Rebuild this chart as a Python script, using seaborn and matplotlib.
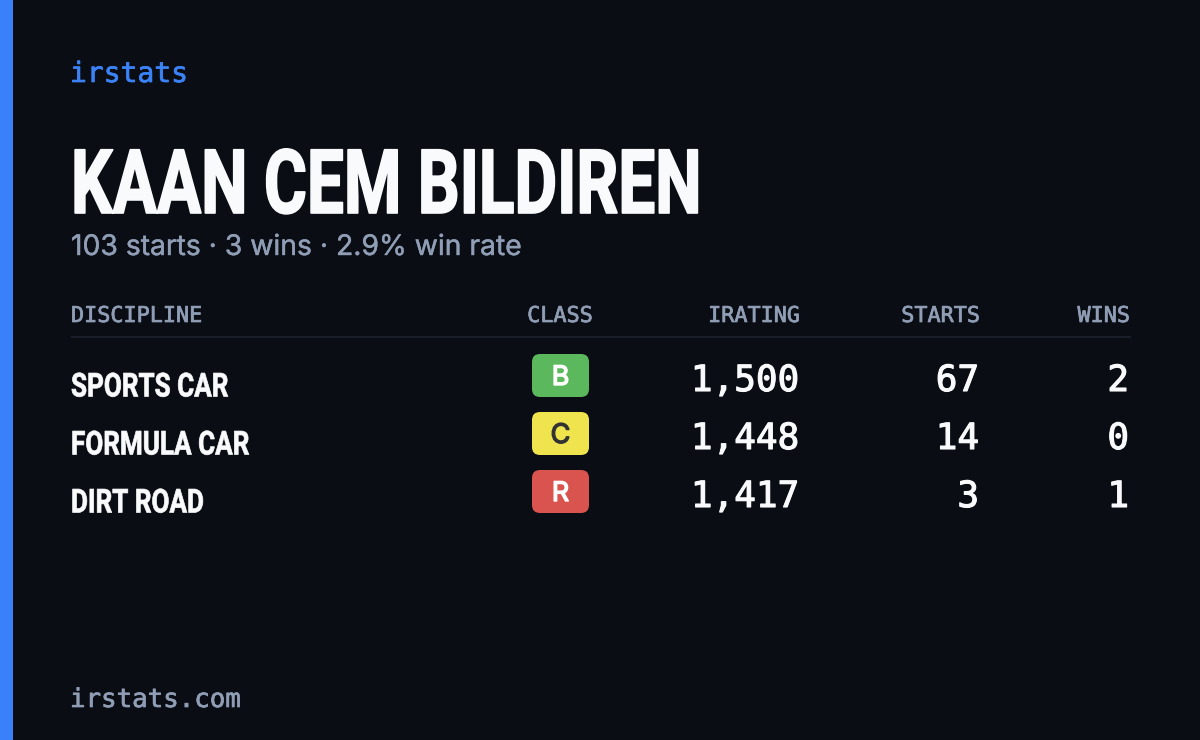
import matplotlib
matplotlib.use("Agg")
import matplotlib.pyplot as plt
import matplotlib.patheffects as pe
import seaborn as sns
from matplotlib.patches import FancyBboxPatch, Rectangle
from matplotlib.transforms import Affine2D

brand = "irstats"
site = "irstats.com"
driver = "KAAN CEM BILDIREN"
summary = "103 starts · 3 wins · 2.9% win rate"
headers = ["DISCIPLINE", "CLASS", "IRATING", "STARTS", "WINS"]
disciplines = ["SPORTS CAR", "FORMULA CAR", "DIRT ROAD"]
classes = ["B", "C", "R"]
iratings = [1500, 1448, 1417]
starts = [67, 14, 3]
wins = [2, 0, 1]

BG = "#0a0d14"
ACCENT = "#3b82f6"
WHITE = "#f8fafc"
MUTED = "#8f9db5"
RULE = "#1a1e2a"
BADGE_FILL = {"B": "#5cb85c", "C": "#f0e44e", "R": "#d9534f"}
BADGE_TEXT = {"B": "#ffffff", "C": "#333333", "R": "#ffffff"}

CONDENSED = ["Roboto", "DejaVu Sans"]
MONO = ["DejaVu Sans Mono"]
SANS = ["Inter", "DejaVu Sans"]


def px(size):
    return size * 0.72


class Squeeze(pe.AbstractPathEffect):
    # no condensed font installed, so narrow the glyphs around a left edge and thicken them
    def __init__(self, scale, left, stroke):
        super().__init__()
        self.scale = scale
        self.left = left
        self.stroke = stroke

    def draw_path(self, renderer, gc, tpath, affine, rgbFace=None):
        narrow = affine + Affine2D().translate(-self.left, 0).scale(self.scale, 1).translate(self.left, 0)
        gc0 = renderer.new_gc()
        gc0.copy_properties(gc)
        gc0.set_foreground(rgbFace)
        gc0.set_linewidth(self.stroke)
        renderer.draw_path(gc0, tpath, narrow, rgbFace)
        gc0.restore()


def heavier(color, width):
    return [pe.withStroke(linewidth=width, foreground=color)]


sns.set_theme(style="dark", rc={"figure.facecolor": BG, "axes.facecolor": BG})

fig, ax = plt.subplots(figsize=(12, 7.4), dpi=100)
ax.set_position([0, 0, 1, 1])
ax.set_xlim(0, 1200)
ax.set_ylim(740, 0)
ax.axis("off")

ax.add_patch(Rectangle((0, 0), 13, 740, color="#3a80fb", lw=0))

ax.text(70, 82, brand, color=ACCENT, family=MONO, fontsize=px(28), va="baseline",
        path_effects=heavier(ACCENT, 0.5))
ax.text(71, 213, driver, color=WHITE, family=CONDENSED, weight="bold", fontsize=px(89), va="baseline",
        path_effects=[Squeeze(0.738, 71, 1.2)])
ax.text(71, 255, summary, color=MUTED, family=SANS, fontsize=px(28.3), va="baseline",
        path_effects=heavier(MUTED, 0.3))
ax.text(70, 707, site, color=MUTED, family=MONO, fontsize=px(25.8), va="baseline",
        path_effects=heavier(MUTED, 0.5))

# table header
col_x = [71, 560, 800, 980, 1130]
col_ha = ["left", "center", "right", "right", "right"]
for label, x, ha in zip(headers, col_x, col_ha):
    ax.text(x, 322, label, color=MUTED, family=MONO, fontsize=px(21.8), ha=ha, va="baseline",
            path_effects=heavier(MUTED, 0.5))
ax.plot([71, 1131], [337, 337], color=RULE, lw=1.5, solid_capstyle="butt")

# table rows
for i, name in enumerate(disciplines):
    row = 58 * i
    ax.text(71, 396.5 + row, name, color=WHITE, family=CONDENSED, weight="bold", fontsize=px(33), va="baseline",
            path_effects=[Squeeze(0.79, 71, 0.5)])

    cls = classes[i]
    ax.add_patch(FancyBboxPatch((540, 362 + row), 41, 27, boxstyle="round,pad=8,rounding_size=8",
                                facecolor=BADGE_FILL[cls], edgecolor="none"))
    ax.text(560.5, 385 + row, cls, color=BADGE_TEXT[cls], family=SANS,
            fontsize=px(27), ha="center", va="baseline", path_effects=heavier(BADGE_TEXT[cls], 1.0))

    for value, x in zip([f"{iratings[i]:,}", str(starts[i]), str(wins[i])], [799, 979, 1129]):
        ax.text(x, 391 + row, value, color=WHITE, family=MONO, fontsize=px(36), ha="right", va="baseline",
                path_effects=heavier(WHITE, 0.8))

fig.savefig("out.png", facecolor=BG)
plt.close(fig)
